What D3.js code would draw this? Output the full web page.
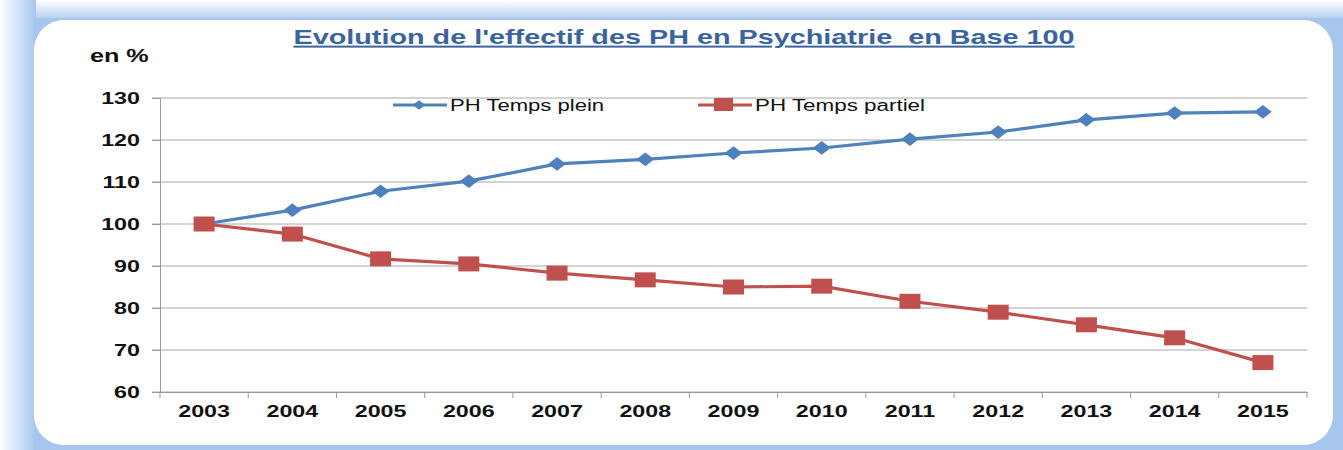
<!DOCTYPE html>
<html>
<head>
<meta charset="utf-8">
<script src="https://cdn.jsdelivr.net/npm/d3@7"></script>
<style>
  body { margin: 0; background: #fff; }
  svg { display: block; }
</style>
</head>
<body>
<div id="chart"></div>
<script>
const years = ["2003", "2004", "2005", "2006", "2007", "2008", "2009", "2010", "2011", "2012", "2013", "2014", "2015"];
const tempsPlein = [100, 103.3, 107.8, 110.2, 114.3, 115.4, 116.9, 118.1, 120.2, 121.9, 124.8, 126.4, 126.7];
const tempsPartiel = [100, 97.6, 91.7, 90.5, 88.3, 86.7, 85.0, 85.2, 81.6, 79.0, 76.0, 72.9, 67.0];
const yTicks = [60, 70, 80, 90, 100, 110, 120, 130];
const seriesNames = ["PH Temps plein", "PH Temps partiel"];

const W = 1343, H = 450;
const margin = { left: 160, right: 36, top: 98, bottom: 58 };
const font = "Liberation Sans, Arial, sans-serif";
const sx = 1.37; // text in the original is stretched horizontally

const svg = d3.select("#chart").append("svg")
  .attr("width", W).attr("height", H);

const defs = svg.append("defs");
const gTop = defs.append("linearGradient").attr("id", "gTop").attr("x1", 0).attr("y1", 0).attr("x2", 0).attr("y2", 1);
gTop.append("stop").attr("offset", "0%").attr("stop-color", "#ffffff");
gTop.append("stop").attr("offset", "100%").attr("stop-color", "#a6c6ee");
const gLeft = defs.append("linearGradient").attr("id", "gLeft").attr("x1", 0).attr("y1", 0).attr("x2", 1).attr("y2", 0);
gLeft.append("stop").attr("offset", "0%").attr("stop-color", "#ffffff");
gLeft.append("stop").attr("offset", "100%").attr("stop-color", "#a6c6ee");

// frame glow
svg.append("rect").attr("x", 0).attr("y", 0).attr("width", W).attr("height", 22).attr("fill", "url(#gTop)");
svg.append("rect").attr("x", 0).attr("y", 0).attr("width", 36).attr("height", H).attr("fill", "url(#gLeft)");
svg.append("rect").attr("x", 34).attr("y", 18).attr("width", W - 34).attr("height", H - 18).attr("fill", "#a6c6ee");
svg.append("rect")
  .attr("x", 34).attr("y", 20).attr("width", 1299).attr("height", 425)
  .attr("rx", 30).attr("ry", 30).attr("fill", "#fff");

// title
svg.append("text")
  .attr("transform", `translate(684,44) scale(1.44,1)`)
  .attr("text-anchor", "middle")
  .attr("font-family", font)
  .attr("font-weight", "bold").attr("font-size", 20)
  .attr("fill", "#3b649c")
  .attr("text-decoration", "underline")
  .style("white-space", "pre")
  .text("Evolution de l'effectif des PH en Psychiatrie  en Base 100");

svg.append("text")
  .attr("transform", `translate(90,62) scale(1.4,1)`)
  .attr("font-family", font)
  .attr("font-weight", "bold").attr("font-size", 18)
  .attr("fill", "#111")
  .text("en %");

const x = d3.scaleBand().domain(years).range([margin.left, W - margin.right]);
const y = d3.scaleLinear().domain([60, 130]).range([H - margin.bottom, margin.top]);

// grid
svg.append("g").selectAll("line").data(yTicks).join("line")
  .attr("x1", margin.left - 8).attr("x2", W - margin.right)
  .attr("y1", d => y(d)).attr("y2", d => y(d))
  .attr("stroke", "#a8a8a8").attr("stroke-width", 1);

// y axis
const yAxis = svg.append("g")
  .attr("transform", `translate(${margin.left},0)`)
  .call(d3.axisLeft(y).tickValues(yTicks).tickSize(8));
yAxis.select(".domain").attr("stroke", "#999");
yAxis.selectAll(".tick line").attr("stroke", "#999");
yAxis.selectAll("text")
  .attr("x", -20 / sx)
  .attr("transform", `scale(${sx},1)`)
  .attr("font-family", font)
  .attr("font-weight", "bold").attr("font-size", 17).attr("fill", "#111");

// x axis
const xAxis = svg.append("g")
  .attr("transform", `translate(0,${y(60)})`)
  .call(d3.axisBottom(x).tickSize(0).tickPadding(13));
xAxis.select(".domain").attr("stroke", "#999");
xAxis.selectAll("text")
  .attr("transform", `scale(${sx},1)`)
  .attr("font-family", font)
  .attr("font-weight", "bold").attr("font-size", 17).attr("fill", "#111");
svg.append("g").selectAll("line").data(years.concat(["end"])).join("line")
  .attr("x1", (d, i) => margin.left + i * x.bandwidth())
  .attr("x2", (d, i) => margin.left + i * x.bandwidth())
  .attr("y1", y(60)).attr("y2", y(60) + 6)
  .attr("stroke", "#999");

const cx = d => x(d) + x.bandwidth() / 2;
const line = d3.line().x((d, i) => cx(years[i])).y(d => y(d));

const blue = "#4f81bd", red = "#c0504d";
const diamond = d3.symbol().type(d3.symbolDiamond2).size(120);

// plein line
svg.append("path").datum(tempsPlein)
  .attr("d", line).attr("fill", "none").attr("stroke", blue).attr("stroke-width", 3.2);
svg.append("g").selectAll("path").data(tempsPlein).join("path")
  .attr("transform", (d, i) => `translate(${cx(years[i])},${y(d)}) scale(1.3,1)`)
  .attr("d", diamond).attr("fill", blue);

// partiel line
svg.append("path").datum(tempsPartiel)
  .attr("d", line).attr("fill", "none").attr("stroke", red).attr("stroke-width", 3.2);
svg.append("g").selectAll("rect").data(tempsPartiel).join("rect")
  .attr("x", (d, i) => cx(years[i]) - 10.5).attr("y", d => y(d) - 7.5)
  .attr("width", 21).attr("height", 15).attr("fill", red);

// legend
const leg = svg.append("g").attr("font-family", font).attr("font-size", 16).attr("fill", "#111");
leg.append("line").attr("x1", 393).attr("x2", 447).attr("y1", 105).attr("y2", 105).attr("stroke", blue).attr("stroke-width", 3);
leg.append("path").attr("transform", "translate(419,105) scale(1.3,1)").attr("d", d3.symbol().type(d3.symbolDiamond2).size(60)).attr("fill", blue);
leg.append("text").attr("transform", "translate(450,111) scale(1.38,1)").text(seriesNames[0]);
leg.append("line").attr("x1", 698).attr("x2", 752).attr("y1", 105).attr("y2", 105).attr("stroke", red).attr("stroke-width", 3);
leg.append("rect").attr("x", 714).attr("y", 98).attr("width", 19).attr("height", 13).attr("fill", red);
leg.append("text").attr("transform", "translate(755,111) scale(1.4,1)").text(seriesNames[1]);
</script>
</body>
</html>
